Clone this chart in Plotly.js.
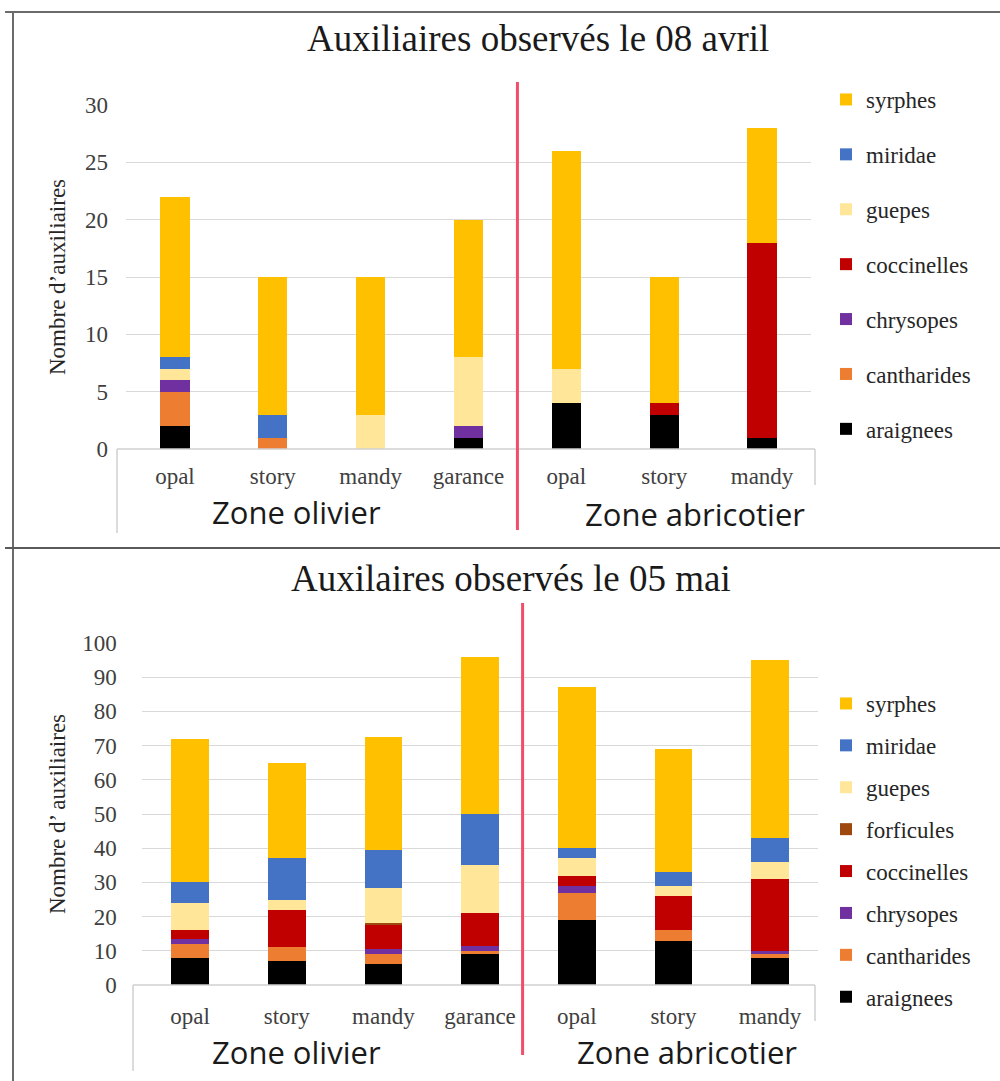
<!DOCTYPE html>
<html>
<head>
<meta charset="utf-8">
<script src="https://cdn.plot.ly/plotly-3.0.1.min.js"></script>
<style>html,body{margin:0;padding:0;background:#fff;}#chart{width:1000px;height:1081px;}</style>
</head>
<body>
<div id="chart"></div>
<script>
// ---------- DATA ----------
const zoneLabels = ['Zone olivier', 'Zone abricotier'];
// bar keys (zone|variety) and the tick labels shown
const keysTop = ['olivier|opal','olivier|story','olivier|mandy','olivier|garance','abricotier|opal','abricotier|story','abricotier|mandy'];
const ticksTop = ['opal','story','mandy','garance','opal','story','mandy'];
const keysBottom = ['olivier|opal','olivier|story','olivier|mandy','olivier|garance','abricotier|opal','abricotier|story','abricotier|mandy'];
const ticksBottom = ['opal','story','mandy','garance','opal','story','mandy'];

// 08 avril
const avrilAraignees   = [2, 0, 0, 1, 4, 3, 1];
const avrilCantharides = [3, 1, 0, 0, 0, 0, 0];
const avrilChrysopes   = [1, 0, 0, 1, 0, 0, 0];
const avrilCoccinelles = [0, 0, 0, 0, 0, 1, 17];
const avrilGuepes      = [1, 0, 3, 6, 3, 0, 0];
const avrilMiridae     = [1, 2, 0, 0, 0, 0, 0];
const avrilSyrphes     = [14, 12, 12, 12, 19, 11, 10];

// 05 mai
const maiAraignees   = [8, 7, 6, 9, 19, 13, 8];
const maiCantharides = [4, 4, 3, 1, 8, 3, 1];
const maiChrysopes   = [1.5, 0, 1.5, 1.5, 2, 0, 1];
const maiCoccinelles = [2.5, 11, 7, 9.5, 3, 10, 21];
const maiForficules  = [0, 0, 0.5, 0, 0, 0, 0];
const maiGuepes      = [8, 3, 10.5, 14, 5, 3, 5];
const maiMiridae     = [6, 12, 11, 15, 3, 4, 7];
const maiSyrphes     = [42, 28, 33, 46, 47, 36, 52];

// ---------- STYLE ----------
const colors = {
  araignees: '#000000', cantharides: '#ED7D31', chrysopes: '#7030A0',
  coccinelles: '#C00000', forficules: '#9E480E', guepes: '#FFE699',
  miridae: '#4472C4', syrphes: '#FFC000'
};
const serif = 'Liberation Serif, Times New Roman, serif';
const sans = 'Open Sans, sans-serif';
const W = 1000, H = 1081;
const px = v => v / W;
const py = v => 1 - v / H;

const topSeries = [
  ['araignees', avrilAraignees], ['cantharides', avrilCantharides], ['chrysopes', avrilChrysopes],
  ['coccinelles', avrilCoccinelles], ['guepes', avrilGuepes], ['miridae', avrilMiridae], ['syrphes', avrilSyrphes]
];
const bottomSeries = [
  ['araignees', maiAraignees], ['cantharides', maiCantharides], ['chrysopes', maiChrysopes],
  ['coccinelles', maiCoccinelles], ['forficules', maiForficules], ['guepes', maiGuepes],
  ['miridae', maiMiridae], ['syrphes', maiSyrphes]
];

const traces = [];
topSeries.forEach(([name, vals], i) => {
  traces.push({type: 'bar', name: name, x: keysTop, y: vals, xaxis: 'x', yaxis: 'y',
    marker: {color: colors[name]}, width: 0.3, legend: 'legend', legendgroup: 'a-' + name,
    legendrank: 100 - i});
});
bottomSeries.forEach(([name, vals], i) => {
  traces.push({type: 'bar', name: name, x: keysBottom, y: vals, xaxis: 'x2', yaxis: 'y2',
    marker: {color: colors[name]}, width: 0.39, legend: 'legend2', legendgroup: 'b-' + name,
    legendrank: 100 - i});
});

const gridC = '#d9d9d9';
const tickC = '#404040';
const boxC = '#d0d0d0';
const txtC = '#262626';

function ann(x, y, text, font) {
  return {xref: 'paper', yref: 'paper', x: px(x), y: py(y), xanchor: 'center', yanchor: 'middle',
    text: text, showarrow: false, font: font};
}

const layout = {
  width: W, height: H,
  margin: {l: 0, r: 0, t: 0, b: 0},
  paper_bgcolor: '#fff', plot_bgcolor: '#fff',
  barmode: 'stack',
  showlegend: true,
  xaxis: {domain: [px(126), px(811)], type: 'category', categoryorder: 'array', categoryarray: keysTop,
    tickvals: keysTop, ticktext: ticksTop, showgrid: false, zeroline: false, showline: false,
    ticks: '', ticklabelstandoff: 11, tickfont: {family: serif, size: 23, color: tickC}, anchor: 'y'},
  yaxis: {domain: [py(449), py(105)], range: [0, 30], dtick: 5, showgrid: true, gridcolor: gridC,
    zeroline: false, showline: false, ticks: '', ticklabelstandoff: 17,
    tickfont: {family: serif, size: 23, color: tickC}, anchor: 'x',
    title: {text: 'Nombre d’auxiliaires', standoff: 12, font: {family: serif, size: 23, color: txtC}}},
  xaxis2: {domain: [px(141.7), px(818.4)], type: 'category', categoryorder: 'array', categoryarray: keysBottom,
    tickvals: keysBottom, ticktext: ticksBottom, showgrid: false, zeroline: false, showline: false,
    ticks: '', ticklabelstandoff: 15, tickfont: {family: serif, size: 23, color: tickC}, anchor: 'y2'},
  yaxis2: {domain: [py(985), py(643)], range: [0, 100], dtick: 10, showgrid: true, gridcolor: gridC,
    zeroline: false, showline: false, ticks: '', ticklabelstandoff: 24,
    tickfont: {family: serif, size: 23, color: tickC}, anchor: 'x2',
    title: {text: 'Nombre d’ auxiliaires', standoff: 10, font: {family: serif, size: 23, color: txtC}}},
  legend: {x: px(826), y: py(78), xanchor: 'left', yanchor: 'top', traceorder: 'grouped',
    tracegroupgap: 22, font: {family: serif, size: 23, color: txtC}, bgcolor: 'rgba(0,0,0,0)'},
  legend2: {x: px(826), y: py(682), xanchor: 'left', yanchor: 'top', traceorder: 'grouped',
    tracegroupgap: 9, font: {family: serif, size: 23, color: txtC}, bgcolor: 'rgba(0,0,0,0)'},
  annotations: [
    ann(538, 38, 'Auxiliaires observés le 08 avril', {family: serif, size: 37, color: '#1a1a1a'}),
    ann(511, 578, 'Auxilaires observés le 05 mai', {family: serif, size: 37, color: '#1a1a1a'}),
    ann(296, 512, zoneLabels[0], {family: sans, size: 31, color: '#1a1a1a'}),
    ann(695, 514, zoneLabels[1], {family: sans, size: 31, color: '#1a1a1a'}),
    ann(296, 1052, zoneLabels[0], {family: sans, size: 31, color: '#1a1a1a'}),
    ann(687, 1052, zoneLabels[1], {family: sans, size: 31, color: '#1a1a1a'})
  ],
  shapes: [
    // outer frame
    {type: 'line', xref: 'paper', yref: 'paper', x0: px(5), x1: 1, y0: py(12), y1: py(12), line: {color: '#6b6b6b', width: 2}},
    {type: 'line', xref: 'paper', yref: 'paper', x0: px(13), x1: px(13), y0: py(12), y1: 0, line: {color: '#6b6b6b', width: 2}},
    {type: 'line', xref: 'paper', yref: 'paper', x0: px(5), x1: 1, y0: py(548), y1: py(548), line: {color: '#5a5a5a', width: 2}},
    // category axis boxes (top)
    {type: 'line', xref: 'paper', yref: 'paper', x0: px(117), x1: px(815), y0: py(449), y1: py(449), line: {color: boxC, width: 1.5}},
    {type: 'line', xref: 'paper', yref: 'paper', x0: px(117), x1: px(117), y0: py(449), y1: py(533), line: {color: boxC, width: 1.5}},
    {type: 'line', xref: 'paper', yref: 'paper', x0: px(815), x1: px(815), y0: py(449), y1: py(485), line: {color: boxC, width: 1.5}},
    // category axis boxes (bottom)
    {type: 'line', xref: 'paper', yref: 'paper', x0: px(133), x1: px(815), y0: py(985), y1: py(985), line: {color: boxC, width: 1.5}},
    {type: 'line', xref: 'paper', yref: 'paper', x0: px(133), x1: px(133), y0: py(985), y1: py(1071), line: {color: boxC, width: 1.5}},
    {type: 'line', xref: 'paper', yref: 'paper', x0: px(815), x1: px(815), y0: py(985), y1: py(1021), line: {color: boxC, width: 1.5}},
    // zone separators
    {type: 'line', xref: 'x', yref: 'paper', x0: 3.5, x1: 3.5, y0: py(82), y1: py(530), line: {color: '#F04E6A', width: 3}},
    {type: 'line', xref: 'x2', yref: 'paper', x0: 3.44, x1: 3.44, y0: py(603), y1: py(1055), line: {color: '#F04E6A', width: 3}}
  ]
};

Plotly.newPlot('chart', traces, layout, {displayModeBar: false, staticPlot: true});
</script>
</body>
</html>
